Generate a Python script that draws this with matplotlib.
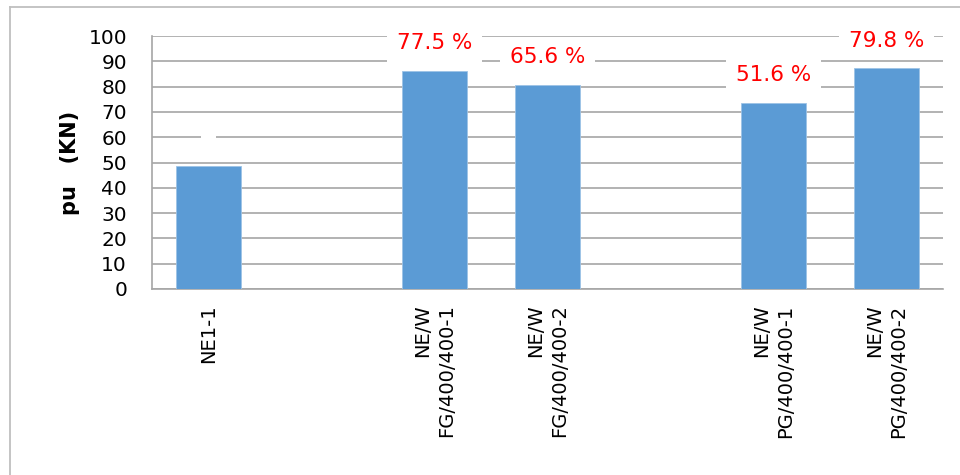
import matplotlib
matplotlib.use("Agg")
import matplotlib.pyplot as plt
from matplotlib.lines import Line2D

categories = ["NE1-1", "", "NE/W\nFG/400/400-1", "NE/W\nFG/400/400-2", "",
              "NE/W\nPG/400/400-1", "NE/W\nPG/400/400-2"]
values = [48.5, None, 86.3, 80.6, None, 73.6, 87.2]
pct_labels = [" ", "", "77.5 %", "65.6 %", "", "51.6 %", "79.8 %"]
yticks = [0, 10, 20, 30, 40, 50, 60, 70, 80, 90, 100]

plt.rcParams['font.family'] = ['DejaVu Sans']

fig = plt.figure(figsize=(9.6, 4.75), dpi=100)
ax = fig.add_axes([152/960, 1-289/475, (943-152)/960, (289-36)/475])

x = list(range(len(categories)))
for xi, v, lab in zip(x, values, pct_labels):
    if v is None:
        continue
    ax.bar(xi, v, width=0.57, color="#5B9BD5", edgecolor="#9dc3e6", linewidth=0.6, zorder=3)
    pad = 0.45 if lab.strip() else 0.2
    ax.annotate(lab, xy=(xi, v), xytext=(0, 20), textcoords="offset points",
                ha="center", va="center", color="#FF0000", fontsize=15.5,
                bbox=dict(boxstyle=f"square,pad={pad}", fc="white", ec="none"), zorder=5)

ax.set_xlim(-0.5, len(categories) - 0.5)
ax.set_ylim(0, 100)
ax.set_yticks(yticks)
ax.set_yticklabels([str(t) for t in yticks], fontsize=14.5)
ax.set_xticks(x)
ax.set_xticklabels(categories, rotation=90, fontsize=14, va="top", ha="center",
                   multialignment="right", linespacing=1.3)
ax.tick_params(axis="x", length=0, pad=11)
ax.tick_params(axis="y", length=0, pad=18)
ax.grid(axis="y", color="#a6a6a6", linewidth=1.2, zorder=0)
ax.set_axisbelow(True)
for s in ["top", "right"]:
    ax.spines[s].set_visible(False)
for s in ["left", "bottom"]:
    ax.spines[s].set_color("#a6a6a6")
    ax.spines[s].set_linewidth(1.2)

ax.set_ylabel("pu   (KN)", fontsize=15, fontweight="bold", labelpad=6)

# outer chart border (top and left visible)
fig.add_artist(Line2D([9.5/960, 1.0], [1-7/475, 1-7/475], transform=fig.transFigure,
                      color="#bfbfbf", linewidth=1.3))
fig.add_artist(Line2D([9.5/960, 9.5/960], [0, 1-7/475], transform=fig.transFigure,
                      color="#bfbfbf", linewidth=1.3))

fig.savefig("out.png", dpi=100)
